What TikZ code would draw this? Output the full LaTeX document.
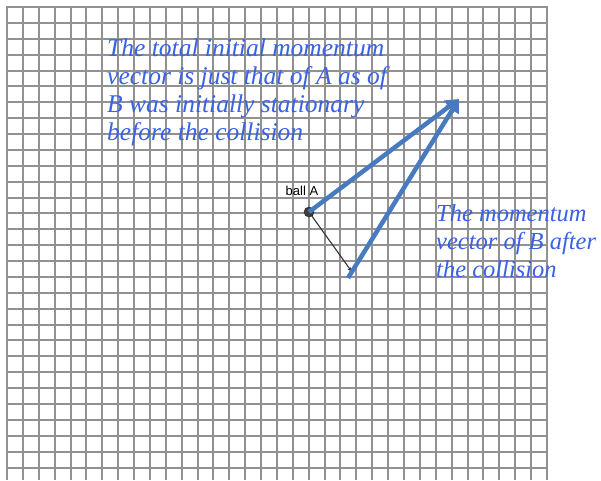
\documentclass[tikz,border=0pt]{standalone}
\usepackage{fontspec}
\setmainfont{Liberation Serif}
\setsansfont{Liberation Sans}
\usetikzlibrary{arrows.meta}
\definecolor{notecol}{RGB}{58,98,228}
\definecolor{vecblue}{RGB}{72,122,192}
\definecolor{gridcol}{RGB}{145,145,145}
\tikzset{
  gridline/.style={draw=gridcol,line width=2pt},
  note/.style={text=notecol,font=\fontsize{25.5}{28}\selectfont\itshape,inner sep=0pt,anchor=base west},
  notesmall/.style={note,font=\fontsize{24.5}{28}\selectfont\itshape},
  bluevec/.style={draw=vecblue,line width=4.5pt,-{Triangle[length=13pt,width=15pt]}},
  blackvec/.style={draw=black!80,line width=1.1pt,-{Stealth[length=5pt,width=4pt]}},
  ballstyle/.style={circle,fill=black!75,draw=black!90,inner sep=0pt,minimum size=10pt},
  balllabel/.style={font=\sffamily\fontsize{13}{14}\selectfont,inner sep=0pt}
}
\begin{document}
\begin{tikzpicture}[x=1pt,y=-1pt]
\useasboundingbox[fill=white] (0,0) rectangle (601,480);
% grid
\foreach \i in {0,...,34} {
  \pgfmathsetmacro{\xx}{round(7+\i*15.88)}
  \draw[gridline] (\xx,7) -- (\xx,480);
}
\foreach \j in {0,...,29} {
  \pgfmathsetmacro{\yy}{round(7+\j*15.88)}
  \draw[gridline] (6,\yy) -- (548,\yy);
}
% points
\node[ballstyle] (A) at (309,212) {};
\node[balllabel] (lab) at (302,191) {ball A};
\coordinate (Aend) at (352,272);
\coordinate (tip) at (459,99);
\coordinate (Bstart) at (348,278);
\draw[blackvec] (A.center) -- (Aend);
\draw[bluevec] (A.center) -- (tip);
\draw[bluevec] (Bstart) -- (tip);
% notes
\node[note] (n1) at (107,56) {The total initial momentum};
\node[note] (n2) at (107,84) {vector is just that of A as of};
\node[note] (n3) at (107,112) {B was initially stationary};
\node[note] (n4) at (107,140) {before the collision};
\node[notesmall] (m1) at (436,221) {The momentum};
\node[notesmall] (m2) at (436,249) {vector of B after};
\node[notesmall] (m3) at (436,277) {the collision};
\end{tikzpicture}
\end{document}
